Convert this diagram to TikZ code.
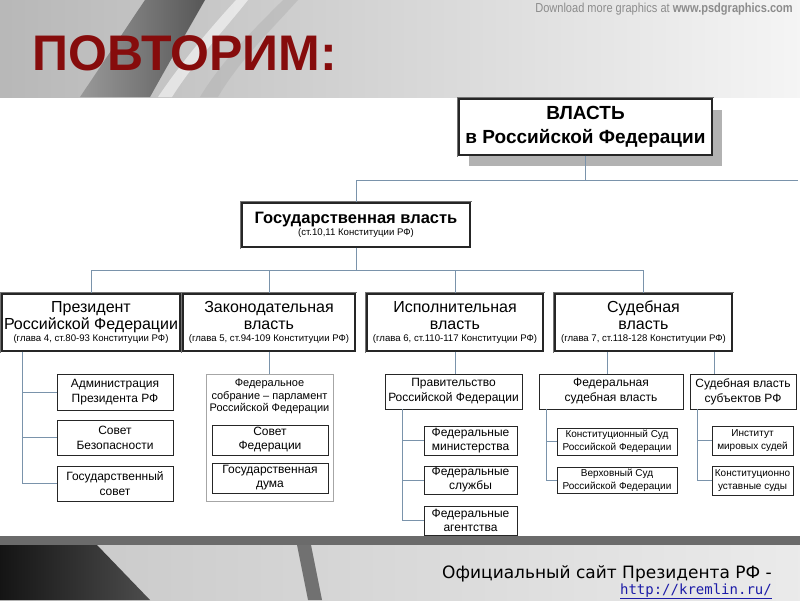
\documentclass[tikz,border=0pt]{standalone}
\usepackage{fontspec}
\setmainfont{Liberation Sans}
\newfontfamily\footfont{DejaVu Sans}
\newfontfamily\urlfont{DejaVu Sans Mono}
\newfontfamily\narrowfont{Liberation Sans}[FakeStretch=0.85]
\usetikzlibrary{positioning, calc, shapes.misc, shadows}

\definecolor{linec}{HTML}{7A93AB}
\definecolor{titlered}{HTML}{860C0C}
\definecolor{urlblue}{HTML}{1C1CA8}

\newcommand{\glava}{\normalfont\fontsize{9.6}{11}\selectfont}

\tikzset{
  conn/.style={draw=linec, line width=0.9pt},
  bigbox/.style={preaction={draw=black!55, line width=4.2pt},
    preaction={draw=white, line width=3pt},
    draw=black!85, line width=1.4pt, fill=white, align=center, inner sep=0pt},
  smallbox/.style={draw=black!85, line width=0.6pt, fill=white, align=center, inner sep=0pt},
  lvtwo/.style={bigbox, minimum height=57pt, font=\fontsize{16}{17}\selectfont},
  lvthree/.style={smallbox, minimum height=35pt, font=\fontsize{12}{15}\selectfont},
  lvfour/.style={smallbox, minimum height=29pt, font=\fontsize{12}{14}\selectfont},
  lvsmall/.style={smallbox, minimum height=27pt, font=\fontsize{10}{13}\selectfont},
}

\begin{document}
\begin{tikzpicture}[x=1pt, y=-1pt]
\useasboundingbox (0,0) rectangle (800,600);

% background of the slide
\fill[white] (0,0) rectangle (800,600);
\shade[left color=black!28, right color=black!4] (0,0) rectangle (800,97);
\shade[left color=black!40, right color=black!66] (80,97) .. controls (105,60) and (128,25) .. (145,0)
  -- (205,0) .. controls (185,35) and (165,70) .. (150,97) -- cycle;
\fill[white, opacity=0.55] (158,97) .. controls (183,60) and (213,25) .. (236,0)
  -- (248,0) .. controls (226,28) and (194,62) .. (172,97) -- cycle;
\fill[black!30, opacity=0.5] (200,97) .. controls (222,60) and (258,25) .. (283,0)
  -- (298,0) .. controls (273,28) and (238,62) .. (218,97) -- cycle;
\fill[black!58] (0,536) rectangle (800,545);
\shade[left color=black!22, right color=black!8] (0,545) rectangle (800,600);
\shade[left color=black!92, right color=black!70] (0,545) -- (97,545) -- (150,600) -- (0,600) -- cycle;
\fill[black!65, opacity=0.8] (297,545) -- (311,545) -- (322,600) -- (308,600) -- cycle;

% titles
\node[anchor=base west, inner sep=0pt, text=titlered, font=\bfseries\fontsize{50}{54}\selectfont] (title) at (32,70) {ПОВТОРИМ:};
\node[anchor=base east, inner sep=0pt, text=black!45, font=\narrowfont\fontsize{13}{14}\selectfont] (dl) at (793,12) {Download more graphics at \textbf{www.psdgraphics.com}};
\node[anchor=base east, inner sep=0pt, font=\footfont\fontsize{17}{20}\selectfont] (site) at (772,578) {Официальный сайт Президента РФ -};
\node[anchor=base east, inner sep=0pt, text=urlblue, font=\urlfont\fontsize{14}{16}\selectfont] (url) at (772,594) {\underline{http://kremlin.ru/}};

% top levels
\node[bigbox, minimum width=253pt, minimum height=56pt, font=\bfseries\fontsize{19}{24}\selectfont,
  drop shadow={shadow xshift=10pt, shadow yshift=-11pt, fill=black!30, opacity=1}] (vlast) at (585.5,127) {ВЛАСТЬ\\в Российской Федерации};
\node[bigbox, minimum width=228pt, minimum height=44pt, font=\bfseries\fontsize{16.5}{18}\selectfont] (gos) at (356,225) {Государственная власть\\[-6pt]{\fontsize{8.6}{10}\glava (ст.10,11 Конституции РФ)}};

\node[lvtwo, minimum width=178pt] (pres) at (91,322.5) {Президент\\Российской Федерации\\[-5pt]{\glava (глава 4, ст.80-93 Конституции РФ)}};
\node[lvtwo, minimum width=172pt] (zak) at (269,322.5) {Законодательная\\власть\\[-5pt]{\glava (глава 5, ст.94-109 Конституции РФ)}};
\node[lvtwo, minimum width=176pt] (isp) at (455,322.5) {Исполнительная\\власть\\[-5pt]{\glava (глава 6, ст.110-117 Конституции РФ)}};
\node[lvtwo, minimum width=177pt] (sud) at (643.5,322.5) {Судебная\\власть\\[-5pt]{\glava (глава 7, ст.118-128 Конституции РФ)}};

% president
\node[lvthree, minimum width=116pt, minimum height=36pt] (adm) at (115,392) {Администрация\\Президента РФ};
\node[lvthree, minimum width=116pt] (sovb) at (115,437.5) {Совет\\Безопасности};
\node[lvthree, minimum width=116pt] (gossov) at (115,483.5) {Государственный\\совет};

% parliament
\node[chamfered rectangle, chamfered rectangle corners={north west, north east}, chamfered rectangle xsep=9pt,
  draw=black!35, line width=0.6pt, fill=white, minimum width=127pt, minimum height=127pt, inner sep=0pt] (fedsob) at (269.5,437.5) {};
\node[below=5pt of fedsob.north, align=center, inner sep=0pt, font=\fontsize{11}{12.5}\selectfont] (fedsobt) {Федеральное\\собрание -- парламент\\Российской Федерации};
\node[lvfour, minimum width=116pt, minimum height=30pt] (sovfed) at (270,440) {Совет\\Федерации};
\node[lvfour, minimum width=116pt, minimum height=30pt] (duma) at (270,478) {Государственная\\дума};

% government
\node[lvthree, minimum width=137pt] (prav) at (453.5,391.5) {Правительство\\Российской Федерации};
\node[lvfour, minimum width=93pt] (fmin) at (470.5,440.5) {Федеральные\\министерства};
\node[lvfour, minimum width=93pt, minimum height=28pt] (fsl) at (470.5,480) {Федеральные\\службы};
\node[lvfour, minimum width=93pt] (fag) at (470.5,520.5) {Федеральные\\агентства};

% courts
\node[lvthree, minimum width=144pt] (fsv) at (611,391.5) {Федеральная\\судебная власть};
\node[lvsmall, minimum width=120pt] (ks) at (617,441.5) {Конституционный Суд\\Российской Федерации};
\node[lvsmall, minimum width=120pt, minimum height=26pt] (vs) at (617,480) {Верховный Суд\\Российской Федерации};
\node[lvthree, minimum width=106pt] (ssub) at (743,391.5) {Судебная власть\\субъектов РФ};
\node[lvsmall, minimum width=81pt, minimum height=29pt] (inst) at (752.5,440.5) {Институт\\мировых судей};
\node[lvsmall, minimum width=81pt, minimum height=29pt] (kus) at (752.5,480.5) {Конституционно\\уставные суды};

% connectors
\coordinate (rend) at (798,180);
\coordinate (bus) at (0,270);
\draw[conn] (vlast.south) -- (vlast.south |- rend);
\draw[conn] (gos.north) |- (rend);
\draw[conn] (gos.south) -- (gos.south |- bus);
\draw[conn] (pres.north) |- (bus -| sud.north) -- (sud.north);
\foreach \n in {zak,isp}
  \draw[conn] (\n.north) -- (\n.north |- bus);

\coordinate (ptr) at ([xshift=21pt]pres.south west);
\draw[conn] (ptr) |- (gossov.west);
\foreach \n in {adm,sovb}
  \draw[conn] (\n.west) -- (\n.west -| ptr);

\draw[conn] (zak.south) -- (zak.south |- fedsob.north);

\draw[conn] (isp.south) -- (isp.south |- prav.north);
\coordinate (gtr) at ([xshift=18pt]prav.south west);
\draw[conn] (gtr) |- (fag.west);
\foreach \n in {fmin,fsl}
  \draw[conn] (\n.west) -- (\n.west -| gtr);

\draw[conn] ([xshift=-4pt]fsv.north) -- ([xshift=-4pt]fsv.north |- sud.south);
\draw[conn] ([xshift=-29pt]ssub.north) -- ([xshift=-29pt]ssub.north |- sud.south);
\coordinate (ftr) at ([xshift=8pt]fsv.south west);
\draw[conn] (ftr) |- (vs.west);
\draw[conn] (ks.west) -- (ks.west -| ftr);
\coordinate (str) at ([xshift=8pt]ssub.south west);
\draw[conn] (str) |- (kus.west);
\draw[conn] (inst.west) -- (inst.west -| str);
\end{tikzpicture}
\end{document}
